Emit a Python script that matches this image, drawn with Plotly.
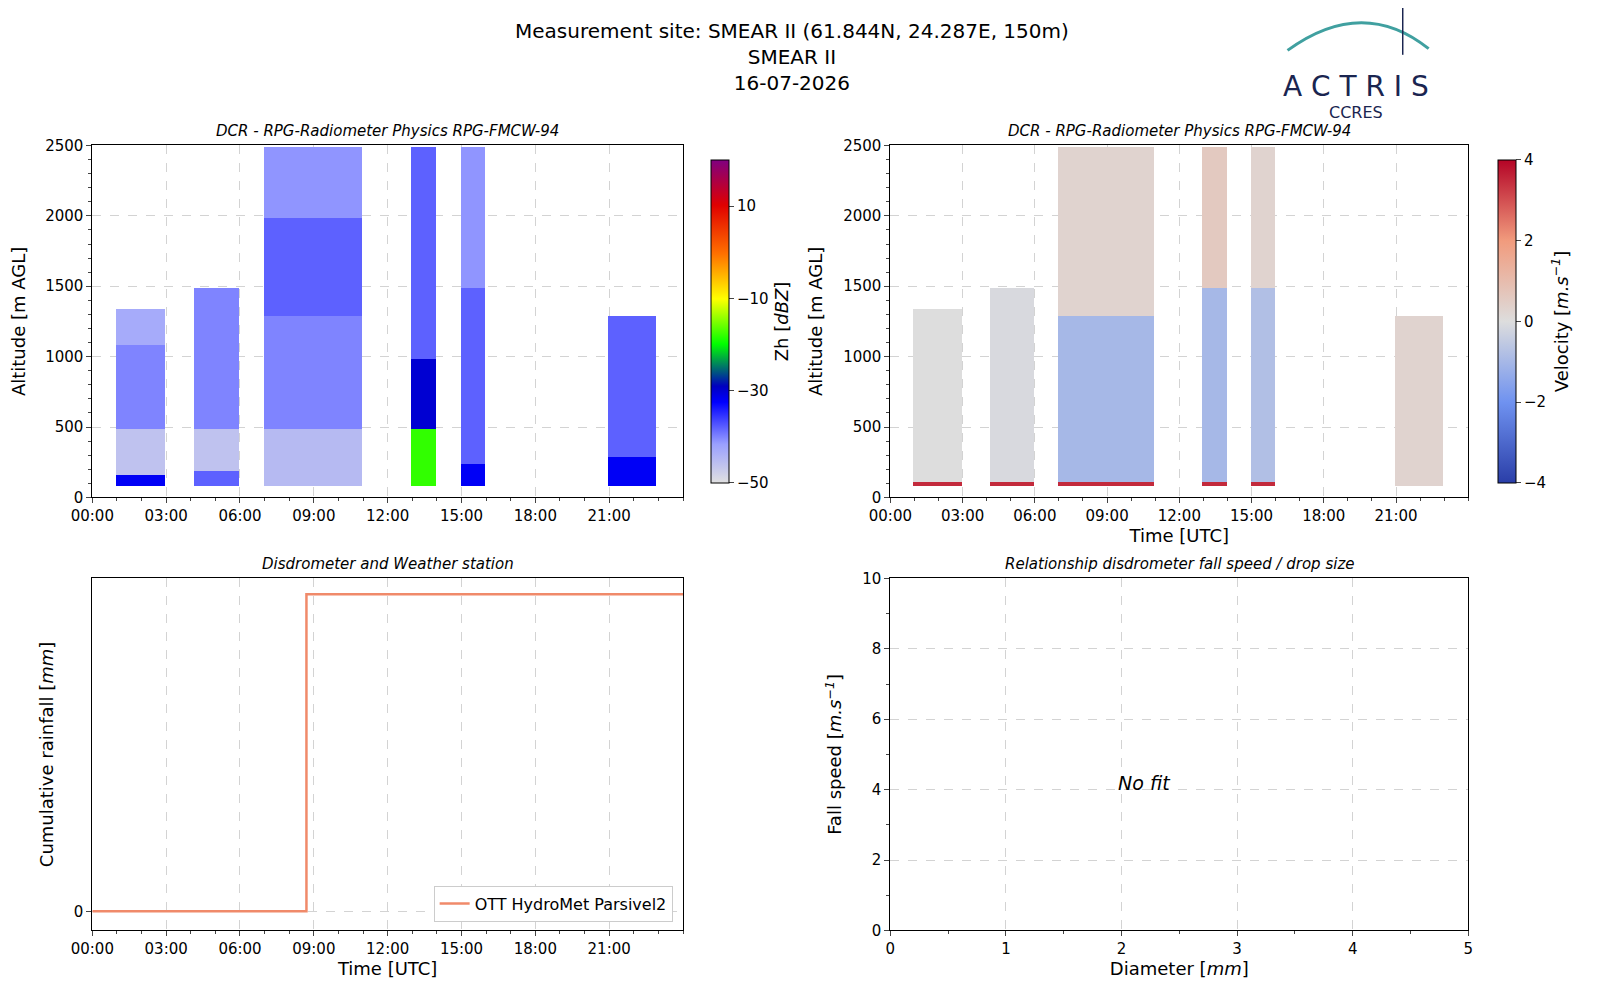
import numpy as np
import plotly.graph_objects as go

# observed periods (start h, end h) and layers (bottom m, top m, value)
zh_segments = [
  (1.0, 3.0, [(100, 175, -32), (175, 500, -46), (500, 1100, -40), (1100, 1350, -43)]),
  (4.1, 6.0, [(100, 200, -38), (200, 500, -46), (500, 1500, -40)]),
  (7.0, 11.0, [(100, 500, -45), (500, 1300, -40), (1300, 2000, -38), (2000, 2500, -41)]),
  (13.0, 14.0, [(100, 500, -18), (500, 1000, -30), (1000, 2500, -38)]),
  (15.0, 16.0, [(100, 250, -32), (250, 1500, -38), (1500, 2500, -41)]),
  (21.0, 22.9, [(100, 300, -32), (300, 1300, -38)]),
]
vel_segments = [
  (1.0, 3.0, [(100, 125, 3.5), (125, 1350, 0.0)]),
  (4.1, 6.0, [(100, 125, 3.5), (125, 1500, -0.1)]),
  (7.0, 11.0, [(100, 125, 3.5), (125, 1300, -1.0), (1300, 2500, 0.3)]),
  (13.0, 14.0, [(100, 125, 3.5), (125, 1500, -1.0), (1500, 2500, 0.6)]),
  (15.0, 16.0, [(100, 125, 3.5), (125, 1500, -0.8), (1500, 2500, 0.3)]),
  (21.0, 23.0, [(100, 1300, 0.3)]),
]
rain_time = [0.0, 8.7, 8.7, 24.0]
rain_cum = [0.0, 0.0, 1.0, 1.0]

times = np.arange(0, 24, 1 / 12)
heights = np.arange(0, 2525, 25)

def build(segments):
  z = np.full((len(heights), len(times)), np.nan)
  for t0, t1, layers in segments:
    tm = (times >= t0) & (times < t1)
    for b, t, v in layers:
      hm = (heights >= b) & (heights < t)
      z[np.ix_(hm, tm)] = v
  return z

zh = build(zh_segments)
vel = build(vel_segments)

zh_scale = [[0, '#e0e0e0'], [0.12, '#9aa0ff'], [0.25, '#0000ff'], [0.3, '#0000c0'],
            [0.43, '#00ff00'], [0.57, '#ffff00'], [0.71, '#ff7000'], [0.86, '#e00000'], [1, '#800080']]
vel_scale = [[0, '#2a3ea8'], [0.25, '#6f92f0'], [0.5, '#dddddd'], [0.75, '#f19b7d'], [1, '#b40426']]

fig = go.Figure()
fig.add_trace(go.Heatmap(x=times, y=heights, z=zh, colorscale=zh_scale, zmin=-50, zmax=20,
                         xaxis='x', yaxis='y',
                         colorbar=dict(x=0.4257, y=0.712, len=0.39, thickness=18, xanchor='left',
                                       tickvals=[-50, -30, -10, 10], ticktext=['\u221250', '\u221230', '\u221210', '10'],
                                       ticks='outside',
                                       title=dict(text='Zh [<i>dBZ</i>]', side='right'),
                                       outlinecolor='black', outlinewidth=1)))
fig.add_trace(go.Heatmap(x=times, y=heights, z=vel, colorscale=vel_scale, zmin=-4, zmax=4,
                         xaxis='x2', yaxis='y2',
                         colorbar=dict(x=0.9724, y=0.712, len=0.39, thickness=18, xanchor='left',
                                       tickvals=[-4, -2, 0, 2, 4], ticktext=['\u22124', '\u22122', '0', '2', '4'],
                                       ticks='outside',
                                       title=dict(text='Velocity [<i>m.s<sup>\u22121</sup></i>]', side='right'),
                                       outlinecolor='black', outlinewidth=1)))
fig.add_trace(go.Scatter(x=rain_time, y=rain_cum, mode='lines', line=dict(color='#f08a6a', width=2.5),
                         name='OTT HydroMet Parsivel2', xaxis='x3', yaxis='y3'))

tv = [0, 3, 6, 9, 12, 15, 18, 21]
tt = ['%02d:00' % h for h in tv]
grid = dict(showgrid=True, gridcolor='#d3d3d3', griddash='dash', showline=True, linecolor='black',
            mirror=True, ticks='outside', zeroline=False, automargin=False)
taxis = dict(grid, range=[0, 24], tickvals=tv, ticktext=tt,
             minor=dict(dtick=1, ticks='outside', ticklen=3, showgrid=False))
hax = dict(grid, range=[0, 2500], dtick=500, minor=dict(dtick=100, ticks='outside', ticklen=3, showgrid=False),
           title=dict(text='Altitude [m AGL]', font=dict(size=18)))
ttl = dict(text='Time [UTC]', font=dict(size=18), standoff=4)

fig.update_layout(
  width=1600, height=1000, plot_bgcolor='white', paper_bgcolor='white',
  font=dict(family='DejaVu Sans', size=15, color='black'),
  margin=dict(l=80, r=80, t=60, b=60), showlegend=True,
  legend=dict(x=0.406, y=0.03, xanchor='right', yanchor='bottom', bordercolor='#cccccc', borderwidth=1,
              font=dict(size=16)),
  xaxis=dict(taxis, domain=[0.003, 0.4132], anchor='y'),
  yaxis=dict(hax, domain=[0.512, 0.912], anchor='x'),
  xaxis2=dict(taxis, domain=[0.5572, 0.9585], anchor='y2', title=ttl),
  yaxis2=dict(hax, domain=[0.512, 0.912], anchor='x2'),
  xaxis3=dict(taxis, domain=[0.003, 0.4132], anchor='y3', title=ttl),
  yaxis3=dict(grid, domain=[0.02, 0.42], anchor='x3', range=[-0.06, 1.05], tickvals=[0],
              title=dict(text='Cumulative rainfall [<i>mm</i>]', font=dict(size=18))),
  xaxis4=dict(grid, domain=[0.5572, 0.9585], anchor='y4', range=[0, 5], dtick=1,
              minor=dict(dtick=0.5, ticks='outside', ticklen=3, showgrid=False),
              title=dict(text='Diameter [<i>mm</i>]', font=dict(size=18), standoff=4)),
  yaxis4=dict(grid, domain=[0.02, 0.42], anchor='x4', range=[0, 10], dtick=2,
              minor=dict(dtick=1, ticks='outside', ticklen=3, showgrid=False),
              title=dict(text='Fall speed [<i>m.s<sup>\u22121</sup></i>]', font=dict(size=18))),
)

ann = [
  dict(x=0.4889, y=1.058, text='Measurement site: SMEAR II (61.844N, 24.287E, 150m)<br>SMEAR II<br>16-07-2026',
       font=dict(size=20), yanchor='top'),
  dict(x=0.208, y=0.916, text='<i>DCR - RPG-Radiometer Physics RPG-FMCW-94</i>', yanchor='bottom'),
  dict(x=0.758, y=0.916, text='<i>DCR - RPG-Radiometer Physics RPG-FMCW-94</i>', yanchor='bottom'),
  dict(x=0.208, y=0.424, text='<i>Disdrometer and Weather station</i>', yanchor='bottom'),
  dict(x=0.758, y=0.424, text='<i>Relationship disdrometer fall speed / drop size</i>', yanchor='bottom'),
  dict(x=0.8806, y=1.0, text='A C T R I S', font=dict(size=28, color='#1a2550')),
  dict(x=0.8806, y=0.963, text='CCRES', font=dict(size=16, color='#1a2550')),
]
for a in ann:
  a.update(xref='paper', yref='paper', showarrow=False, xanchor='center')
fig.update_layout(annotations=ann)
fig.add_annotation(x=2.2, y=4.2, xref='x4', yref='y4', text='<i>No fit</i>', showarrow=False, font=dict(size=19))

fig.add_shape(type='path', xref='paper', yref='paper', path='M 0.833,1.02 Q 0.885,1.082 0.931,1.022',
              line=dict(color='#40a0a0', width=3))
fig.add_shape(type='line', xref='paper', yref='paper', x0=0.913, x1=0.913, y0=1.015, y1=1.07,
              line=dict(color='#1a2550', width=1.5))

fig.write_html('out.html')
